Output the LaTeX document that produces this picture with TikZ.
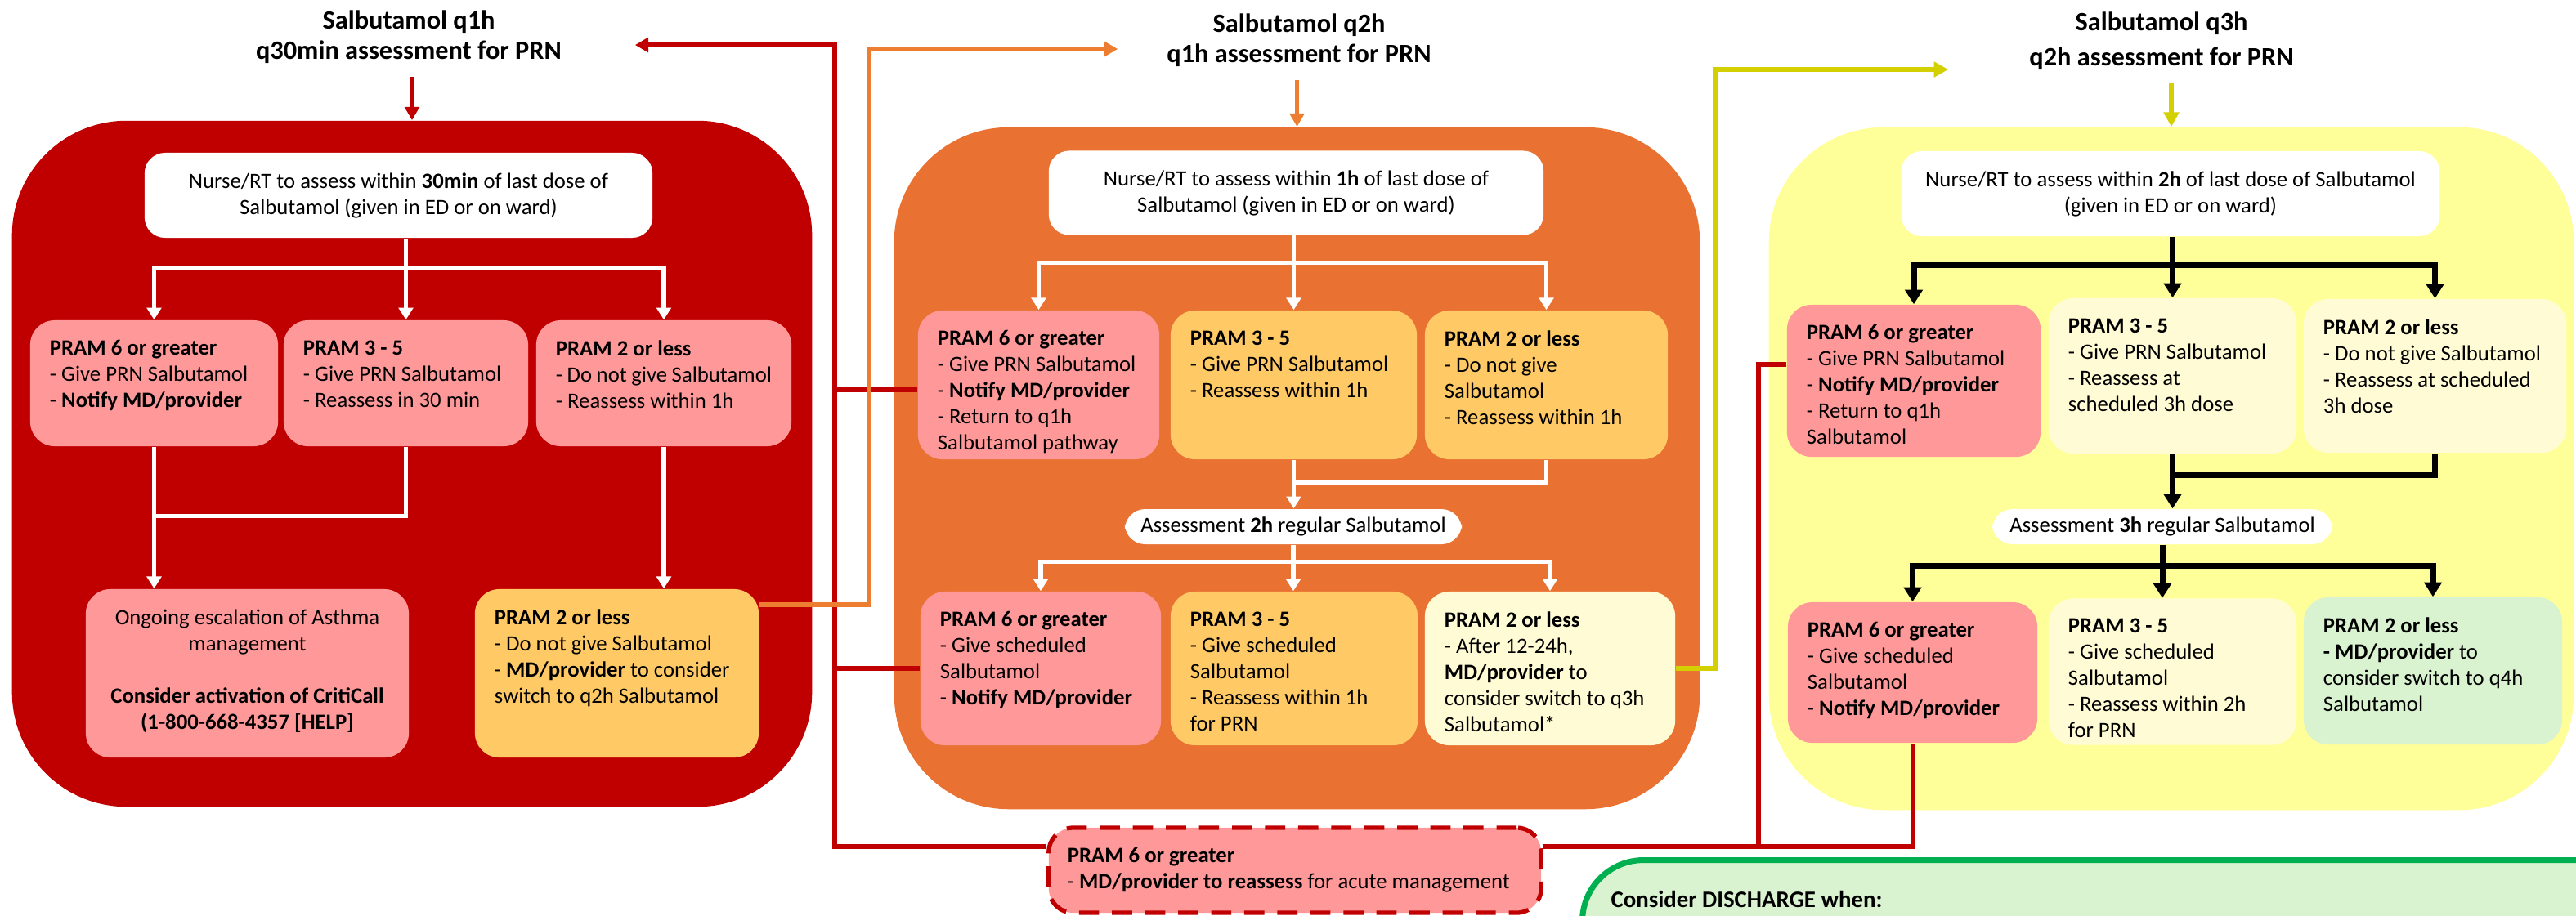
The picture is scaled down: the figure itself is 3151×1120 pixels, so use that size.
\documentclass[tikz,border=0pt]{standalone}
\usepackage{fontspec}
\setmainfont{Carlito}
\usepackage{tikz}
\usetikzlibrary{arrows.meta}

\definecolor{q1red}{RGB}{192,0,0}
\definecolor{q2orange}{RGB}{233,113,50}
\definecolor{q3yellow}{RGB}{255,255,153}
\definecolor{pramPink}{RGB}{255,153,153}
\definecolor{pramGold}{RGB}{255,202,102}
\definecolor{pramCream}{RGB}{255,252,213}
\definecolor{pramMint}{RGB}{217,242,208}
\definecolor{dcGreen}{RGB}{0,176,80}
\definecolor{lineOrange}{RGB}{237,125,49}
\definecolor{lineYellow}{RGB}{212,208,0}

\newcommand{\cell}[3]{\parbox[c][#1][t]{#2}{\raggedright #3}}
\newcommand{\ccell}[3]{\parbox[c][#1][t]{#2}{\centering #3}}

\begin{document}
\begin{tikzpicture}[x=0.01cm,y=-0.01cm,
  ttl/.style={font=\fontsize{9.2}{10.5}\selectfont\bfseries, align=center, inner sep=0pt},
  stagebox/.style={rounded corners=1.4cm, inner sep=0pt},
  cellbox/.style={rounded corners=0.3cm, inner sep=0pt, font=\fontsize{7.6}{9.1}\selectfont},
  headbox/.style={cellbox, fill=white, align=center, rounded corners=0.25cm},
  wline/.style={draw=white, line width=1.5pt},
  warrow/.style={wline, -{Triangle[width=5pt,length=4.2pt]}},
  kline/.style={draw=black, line width=2pt},
  karrow/.style={kline, -{Triangle[width=6pt,length=5pt]}},
  rline/.style={draw=q1red, line width=1.55pt},
  rarrow/.style={rline, -{Triangle[width=5pt,length=4.6pt]}},
  oarrow/.style={draw=lineOrange, line width=1.55pt, -{Triangle[width=5pt,length=4.6pt]}},
  yarrow/.style={draw=lineYellow, line width=1.6pt, -{Triangle[width=5.2pt,length=5pt]}}]
\useasboundingbox (0,0) rectangle (3151,1120);
\clip (0,0) rectangle (3151,1120);

\node[stagebox, fill=q1red, minimum width=9.78cm, minimum height=8.39cm] (bigA) at (504,567.5) {};
\node[stagebox, fill=q2orange, minimum width=9.85cm, minimum height=8.34cm] (bigB) at (1586.5,573) {};
\node[stagebox, fill=q3yellow, minimum width=9.84cm, minimum height=8.35cm] (bigC) at (2656,573.5) {};

\node[ttl, minimum width=5.52cm] (t1) at (500,45) {Salbutamol q1h\\q30min assessment for PRN};
\node[ttl, minimum width=4.42cm] (t2) at (1589,49) {Salbutamol q2h\\q1h assessment for PRN};
\node[ttl, minimum width=5.2cm, font=\fontsize{9.2}{12.2}\selectfont\bfseries] (t3) at (2644,50) {Salbutamol q3h\\q2h assessment for PRN};

\node[headbox, minimum width=6.21cm, minimum height=1.04cm] (aTop) at (487.5,239) {Nurse/RT to assess within \textbf{30min} of last dose of\\Salbutamol (given in ED or on ward)};
\node[cellbox, fill=pramPink, minimum width=3.03cm, minimum height=1.54cm] (aSix) at (188.5,469) {\cell{1.05cm}{2.55cm}{\textbf{PRAM 6 or greater}\\- Give PRN Salbutamol\\- \textbf{Notify MD/provider}}};
\node[cellbox, fill=pramPink, minimum width=2.99cm, minimum height=1.54cm] (aThree) at (496.5,469) {\cell{1.05cm}{2.51cm}{\textbf{PRAM 3 - 5}\\- Give PRN Salbutamol\\- Reassess in 30 min}};
\node[cellbox, fill=pramPink, minimum width=3.12cm, minimum height=1.54cm] (aTwo) at (812,469) {\cell{1.05cm}{2.64cm}{\textbf{PRAM 2 or less}\\- Do not give Salbutamol\\- Reassess within 1h}};
\node[cellbox, fill=pramPink, minimum width=3.95cm, minimum height=2.06cm] (aOngoing) at (302.5,824) {\ccell{1.57cm}{3.6cm}{Ongoing escalation of Asthma\\management\\[9.1pt]\textbf{Consider activation of CritiCall}\\\textbf{(1-800-668-4357 [HELP]}}};
\node[cellbox, fill=pramGold, minimum width=3.47cm, minimum height=2.06cm] (aLess) at (754.5,824) {\cell{1.57cm}{2.99cm}{\textbf{PRAM 2 or less}\\- Do not give Salbutamol\\- \textbf{MD/provider} to consider\\switch to q2h Salbutamol}};

\node[headbox, minimum width=6.05cm, minimum height=1.03cm] (bTop) at (1585.5,236) {Nurse/RT to assess within \textbf{1h} of last dose of\\Salbutamol (given in ED or on ward)};
\node[cellbox, fill=pramPink, minimum width=2.95cm, minimum height=1.82cm] (bSix) at (1270.5,471) {\cell{1.33cm}{2.47cm}{\textbf{PRAM 6 or greater}\\- Give PRN Salbutamol\\- \textbf{Notify MD/provider}\\- Return to q1h\\Salbutamol pathway}};
\node[cellbox, fill=pramGold, minimum width=3.01cm, minimum height=1.82cm] (bThree) at (1582.5,471) {\cell{1.33cm}{2.53cm}{\textbf{PRAM 3 - 5}\\- Give PRN Salbutamol\\- Reassess within 1h}};
\node[cellbox, fill=pramGold, minimum width=2.97cm, minimum height=1.82cm] (bTwo) at (1891.5,471) {\cell{1.33cm}{2.49cm}{\textbf{PRAM 2 or less}\\- Do not give\\Salbutamol\\- Reassess within 1h}};
\node[headbox, minimum width=4.12cm, minimum height=0.43cm] (bAss) at (1582,644.5) {Assessment \textbf{2h} regular Salbutamol};
\node[cellbox, fill=pramPink, minimum width=2.94cm, minimum height=1.88cm] (bSixS) at (1273,818) {\cell{1.39cm}{2.46cm}{\textbf{PRAM 6 or greater}\\- Give scheduled\\Salbutamol\\- \textbf{Notify MD/provider}}};
\node[cellbox, fill=pramGold, minimum width=3.02cm, minimum height=1.88cm] (bThreeS) at (1583,818) {\cell{1.39cm}{2.54cm}{\textbf{PRAM 3 - 5}\\- Give scheduled\\Salbutamol\\- Reassess within 1h\\for PRN}};
\node[cellbox, fill=pramCream, minimum width=3.06cm, minimum height=1.88cm] (bTwoS) at (1896,818) {\cell{1.39cm}{2.58cm}{\textbf{PRAM 2 or less}\\- After 12-24h,\\\textbf{MD/provider} to\\consider switch to q3h\\Salbutamol*}};

\node[headbox, minimum width=6.58cm, minimum height=1.04cm] (cTop) at (2655,237) {Nurse/RT to assess within \textbf{2h} of last dose of Salbutamol\\(given in ED or on ward)};
\node[cellbox, fill=pramPink, minimum width=3.10cm, minimum height=1.86cm] (cSix) at (2341,466) {\cell{1.37cm}{2.62cm}{\textbf{PRAM 6 or greater}\\- Give PRN Salbutamol\\- \textbf{Notify MD/provider}\\- Return to q1h\\Salbutamol}};
\node[cellbox, fill=pramCream, minimum width=3.03cm, minimum height=1.90cm] (cThree) at (2657.5,460) {\cell{1.41cm}{2.55cm}{\textbf{PRAM 3 - 5}\\- Give PRN Salbutamol\\- Reassess at\\scheduled 3h dose}};
\node[cellbox, fill=pramCream, minimum width=3.21cm, minimum height=1.88cm] (cTwo) at (2978.5,460) {\cell{1.39cm}{2.73cm}{\textbf{PRAM 2 or less}\\- Do not give Salbutamol\\- Reassess at scheduled\\3h dose}};
\node[headbox, minimum width=4.16cm, minimum height=0.43cm] (cAss) at (2645,644.5) {Assessment \textbf{3h} regular Salbutamol};
\node[cellbox, fill=pramPink, minimum width=3.05cm, minimum height=1.72cm] (cSixS) at (2339.5,823) {\cell{1.23cm}{2.57cm}{\textbf{PRAM 6 or greater}\\- Give scheduled\\Salbutamol\\- \textbf{Notify MD/provider}}};
\node[cellbox, fill=pramCream, minimum width=3.03cm, minimum height=1.79cm] (cThreeS) at (2657.5,822) {\cell{1.30cm}{2.55cm}{\textbf{PRAM 3 - 5}\\- Give scheduled\\Salbutamol\\- Reassess within 2h\\for PRN}};
\node[cellbox, fill=pramMint, minimum width=3.16cm, minimum height=1.80cm] (cTwoS) at (2976,821) {\cell{1.31cm}{2.68cm}{\textbf{PRAM 2 or less}\\\textbf{- MD/provider} to\\consider switch to q4h\\Salbutamol}};

\node[cellbox, fill=pramPink, draw=q1red, line width=1.5pt, dash pattern=on 7pt off 4.5pt, minimum width=6.02cm, minimum height=1.04cm] (dash) at (1584,1065) {\cell{0.55cm}{5.56cm}{\textbf{PRAM 6 or greater}\\- \textbf{MD/provider to reassess} for acute management}};
\node[cellbox, anchor=north west, fill=pramMint, draw=dcGreen, line width=2pt, rounded corners=0.75cm, minimum width=13cm, minimum height=2cm, font=\fontsize{8.2}{9.8}\selectfont] (discharge) at (1932,1049) {\cell{1.24cm}{12.3cm}{\textbf{Consider DISCHARGE when:}}};

\draw[rarrow] ([yshift=-0.16cm]t1.south -| bigA.north) -- (bigA.north);
\draw[oarrow] ([yshift=-0.16cm]t2.south -| bigB.north) -- (bigB.north);
\draw[yarrow] ([yshift=-0.16cm]t3.south -| bigC.north) -- (bigC.north);

\draw[wline] (aTop.south -| aThree.north) -- ++(0,36) coordinate (aFork);
\draw[warrow] (aFork) -| (aSix.north);
\draw[warrow] (aFork) -- (aThree.north);
\draw[warrow] (aFork) -| (aTwo.north);
\draw[wline] (aThree.south) -- ++(0,85) -| (aSix.south);
\draw[warrow] (aSix.south) -- (aSix.south |- aOngoing.north);
\draw[warrow] (aTwo.south) -- (aTwo.south |- aLess.north);

\draw[wline] (bTop.south -| bThree.north) -- ++(0,33) coordinate (bFork);
\draw[warrow] (bFork) -| (bSix.north);
\draw[warrow] (bFork) -- (bThree.north);
\draw[warrow] (bFork) -| (bTwo.north);
\draw[warrow] (bThree.south) -- (bThree.south |- bAss.north);
\draw[wline] (bTwo.south) -- ++(0,28) -| (bThree.south);
\draw[wline] (bAss.south) -- ++(0,21) coordinate (bFork2);
\draw[warrow] (bFork2) -| (bSixS.north);
\draw[warrow] (bFork2) -- (bFork2 |- bThreeS.north);
\draw[warrow] (bFork2) -| (bTwoS.north);

\draw[kline] (cTop.south -| cThree.north) -- ++(0,35) coordinate (cFork);
\draw[karrow] (cFork) -| (cSix.north);
\draw[karrow] (cFork) -- (cThree.north);
\draw[karrow] (cFork) -| (cTwo.north);
\draw[karrow] (cThree.south) -- (cThree.south |- cAss.north);
\draw[kline] (cTwo.south) -- ++(0,27) -| (cThree.south);
\draw[kline] (cAss.south) -- ++(0,26) coordinate (cFork2);
\draw[karrow] (cFork2) -| (cSixS.north);
\draw[karrow] (cFork2) -- (cFork2 |- cThreeS.north);
\draw[karrow] (cFork2) -| (cTwoS.north);

\coordinate (rTop) at (1021,55);
\coordinate (rBot) at (1021,1036);
\coordinate (rSide) at (2151,1036);
\coordinate (oTop) at (1063,60);
\coordinate (yTop) at (2098,85);
\draw[rarrow] ([yshift=-0.06cm]bSix.west) -| (rTop) -- (rTop -| t1.east);
\draw[rline] (rTop) -- (rBot) -- (rBot -| dash.west);
\draw[rline] (bSixS.west) -- (bSixS.west -| rBot);
\draw[rline] ([yshift=0.2cm]cSix.west) -| (rSide) -- (rSide -| dash.east);
\draw[rline] (cSixS.south) |- (rSide);
\draw[oarrow] ([yshift=0.84cm]aLess.east) -| (oTop) -- (oTop -| t2.west);
\draw[yarrow] (bTwoS.east) -| (yTop) -- (yTop -| t3.west);
\end{tikzpicture}
\end{document}
